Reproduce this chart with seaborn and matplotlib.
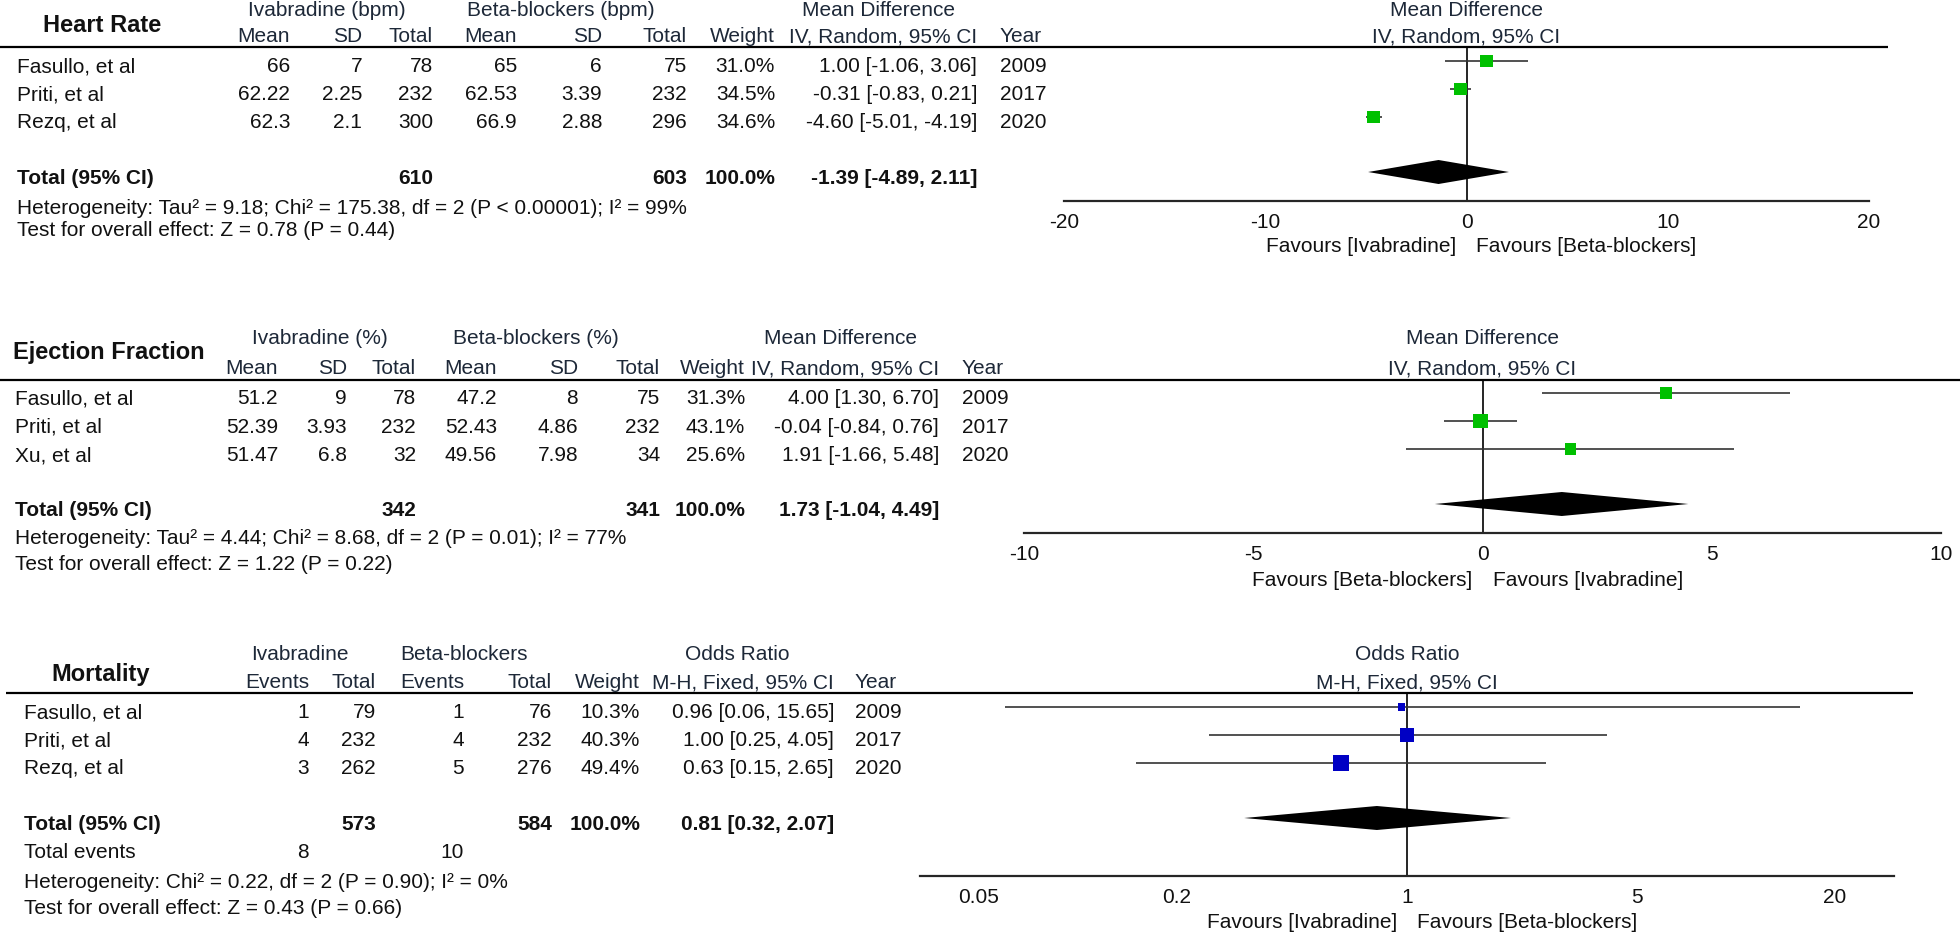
import numpy as np
import pandas as pd
import seaborn as sns
from matplotlib import pyplot as plt
from matplotlib.ticker import NullLocator, NullFormatter

# ---------------- data ----------------
years = ["2009", "2017", "2020"]

# Heart rate (mean difference, bpm)
hr_studies = ["Fasullo, et al", "Priti, et al", "Rezq, et al"]
hr_iv_mean = ["66", "62.22", "62.3"]
hr_iv_sd = ["7", "2.25", "2.1"]
hr_iv_n = [78, 232, 300]
hr_bb_mean = ["65", "62.53", "66.9"]
hr_bb_sd = ["6", "3.39", "2.88"]
hr_bb_n = [75, 232, 296]
hr_weight = [31.0, 34.5, 34.6]
hr_md = [1.00, -0.31, -4.60]
hr_lo = [-1.06, -0.83, -5.01]
hr_hi = [3.06, 0.21, -4.19]
hr_total = [-1.39, -4.89, 2.11]
hr_het = "Heterogeneity: Tau\u00b2 = 9.18; Chi\u00b2 = 175.38, df = 2 (P < 0.00001); I\u00b2 = 99%"
hr_test = "Test for overall effect: Z = 0.78 (P = 0.44)"

# Ejection fraction (mean difference, %)
ef_studies = ["Fasullo, et al", "Priti, et al", "Xu, et al"]
ef_iv_mean = ["51.2", "52.39", "51.47"]
ef_iv_sd = ["9", "3.93", "6.8"]
ef_iv_n = [78, 232, 32]
ef_bb_mean = ["47.2", "52.43", "49.56"]
ef_bb_sd = ["8", "4.86", "7.98"]
ef_bb_n = [75, 232, 34]
ef_weight = [31.3, 43.1, 25.6]
ef_md = [4.00, -0.04, 1.91]
ef_lo = [1.30, -0.84, -1.66]
ef_hi = [6.70, 0.76, 5.48]
ef_total = [1.73, -1.04, 4.49]
ef_het = "Heterogeneity: Tau\u00b2 = 4.44; Chi\u00b2 = 8.68, df = 2 (P = 0.01); I\u00b2 = 77%"
ef_test = "Test for overall effect: Z = 1.22 (P = 0.22)"

# Mortality (odds ratio)
mo_studies = ["Fasullo, et al", "Priti, et al", "Rezq, et al"]
mo_iv_events = [1, 4, 3]
mo_iv_n = [79, 232, 262]
mo_bb_events = [1, 4, 5]
mo_bb_n = [76, 232, 276]
mo_weight = [10.3, 40.3, 49.4]
mo_or = [0.96, 1.00, 0.63]
mo_lo = [0.06, 0.25, 0.15]
mo_hi = [15.65, 4.05, 2.65]
mo_total = [0.81, 0.32, 2.07]
mo_het = "Heterogeneity: Chi\u00b2 = 0.22, df = 2 (P = 0.90); I\u00b2 = 0%"
mo_test = "Test for overall effect: Z = 0.43 (P = 0.66)"

md_ticks = {"hr": [-20, -10, 0, 10, 20], "ef": [-10, -5, 0, 5, 10]}
or_ticks = [0.05, 0.2, 1, 5, 20]
or_ticklabels = ["0.05", "0.2", "1", "5", "20"]

# ---------------- style ----------------
sns.set_style("white")
plt.rcParams["font.family"] = ["Liberation Sans", "DejaVu Sans"]
FS = 15
TXT = "#111111"
HEAD = "#1d2838"
GREEN = "#00c000"
BLUE = "#0000c4"

W, H = 1960, 934
fig = plt.figure(figsize=(W / 100, H / 100), dpi=100)
bg = fig.add_axes([0, 0, 1, 1])
bg.set_xlim(0, W)
bg.set_ylim(H, 0)
bg.axis("off")


def txt(x, y, s, ha="left", bold=False, size=FS, color=TXT):
    bg.text(x, y, s, ha=ha, va="center", fontsize=size,
            fontweight="bold" if bold else "normal", color=color)


def ci_str(e, l, h):
    return f"{e:.2f} [{l:.2f}, {h:.2f}]"


def table(studies, cols, col_right, year_x, y0, dy, x0):
    for i, name in enumerate(studies):
        y = y0 + i * dy
        txt(x0, y, name)
        for col, xr in zip(cols, col_right):
            txt(xr, y, str(col[i]), ha="right")
        txt(year_x, y, years[i])


def forest(px0, px1, xlim, est, lo, hi, weight, total, null, color,
           mark_y0, dy, top_y, axis_y, dia_y, fav, fav_y, heads, head_ys,
           log=False, ticks=None, labels=None, tick_marks=None):
    ax = fig.add_axes([px0 / W, 0, (px1 - px0) / W, 1])
    ax.patch.set_alpha(0)
    if log:
        ax.set_xscale("log")
    ax.set_xlim(*xlim)
    ax.set_ylim(H, 0)
    for s in ["left", "right", "top"]:
        ax.spines[s].set_visible(False)
    ax.spines["bottom"].set_position(("data", axis_y))
    ax.spines["bottom"].set_linewidth(1.6)
    ax.set_yticks([])

    df = pd.DataFrame({"est": est, "lo": lo, "hi": hi, "weight": weight,
                       "y": [mark_y0 + i * dy for i in range(len(est))]})
    ax.hlines(df["y"], df["lo"], df["hi"], color="#333333", lw=1.2, zorder=2)
    sns.scatterplot(data=df, x="est", y="y", size="weight", sizes=(0, 251),
                    size_norm=(0, 100), marker="s", color=color, linewidth=0,
                    legend=False, ax=ax, zorder=3)
    ax.set_xlabel("")
    ax.set_ylabel("")
    ax.vlines(null, top_y, axis_y, color="black", lw=1.2, zorder=1)
    e, l, h = total
    ax.fill([l, e, h, e], [dia_y, dia_y - 12, dia_y, dia_y + 12],
            color="black", lw=0, zorder=3)

    ax.set_xticks(ticks)
    ax.set_xticklabels(labels, fontsize=FS, color=TXT)
    if tick_marks is None:
        ax.tick_params(axis="x", direction="inout", length=11, width=1.6, pad=3)
    else:
        ax.xaxis.set_minor_locator(NullLocator())
        ax.set_xticks(tick_marks, minor=True)
        ax.xaxis.set_minor_formatter(NullFormatter())
        ax.tick_params(axis="x", which="major", length=0, pad=8.5)
        ax.tick_params(axis="x", which="minor", direction="inout",
                       length=11, width=1.6)

    ax.annotate(fav[0], xy=(null, fav_y), xytext=(-10, 0),
                textcoords="offset pixels", ha="right", va="center",
                fontsize=FS, color=TXT)
    ax.annotate(fav[1], xy=(null, fav_y), xytext=(10, 0),
                textcoords="offset pixels", ha="left", va="center",
                fontsize=FS, color=TXT)
    for s, y in zip(heads, head_ys):
        ax.text(null, y, s, ha="center", va="center", fontsize=FS, color=HEAD)
    return ax


# ---------------- panel 1: heart rate ----------------
txt(43, 25, "Heart Rate", bold=True, size=17)
for s, x in [("Ivabradine (bpm)", 327), ("Beta-blockers (bpm)", 561),
             ("Mean Difference", 878)]:
    txt(x, 10, s, ha="center", color=HEAD)
hr_right = [290, 362, 433, 517, 602, 687, 775, 977]
for s, x in zip(["Mean", "SD", "Total", "Mean", "SD", "Total", "Weight",
                 "IV, Random, 95% CI"], hr_right):
    txt(x, 37, s, ha="right", color=HEAD)
txt(1000, 37, "Year", color=HEAD)
bg.hlines(47, 0, 1888, color="black", lw=1.6)
table(hr_studies,
      [hr_iv_mean, hr_iv_sd, hr_iv_n, hr_bb_mean, hr_bb_sd, hr_bb_n,
       [f"{w:.1f}%" for w in hr_weight],
       [ci_str(*v) for v in zip(hr_md, hr_lo, hr_hi)]],
      hr_right, 1000, 67, 28, 17)
txt(17, 178, "Total (95% CI)", bold=True)
txt(433, 178, str(sum(hr_iv_n)), ha="right", bold=True)
txt(687, 178, str(sum(hr_bb_n)), ha="right", bold=True)
txt(775, 178, "100.0%", ha="right", bold=True)
txt(977, 178, ci_str(*hr_total), ha="right", bold=True)
txt(17, 208, hr_het)
txt(17, 230, hr_test)
forest(1064, 1869, (-20, 20), hr_md, hr_lo, hr_hi, hr_weight, hr_total, 0,
       GREEN, 61, 28, 47, 201, 172,
       ("Favours [Ivabradine]", "Favours [Beta-blockers]"), 247,
       ("Mean Difference", "IV, Random, 95% CI"), (10, 37),
       ticks=md_ticks["hr"], labels=[str(t) for t in md_ticks["hr"]])

# ---------------- panel 2: ejection fraction ----------------
txt(13, 353, "Ejection Fraction", bold=True, size=17)
for s, x in [("Ivabradine (%)", 320), ("Beta-blockers (%)", 536),
             ("Mean Difference", 840)]:
    txt(x, 338, s, ha="center", color=HEAD)
ef_right = [278, 347, 416, 497, 578, 660, 745, 939]
for s, x in zip(["Mean", "SD", "Total", "Mean", "SD", "Total", "Weight",
                 "IV, Random, 95% CI"], ef_right):
    txt(x, 369, s, ha="right", color=HEAD)
txt(962, 369, "Year", color=HEAD)
bg.hlines(380, 0, 1960, color="black", lw=1.6)
table(ef_studies,
      [ef_iv_mean, ef_iv_sd, ef_iv_n, ef_bb_mean, ef_bb_sd, ef_bb_n,
       [f"{w:.1f}%" for w in ef_weight],
       [ci_str(*v) for v in zip(ef_md, ef_lo, ef_hi)]],
      ef_right, 962, 399, 28.3, 15)
txt(15, 510, "Total (95% CI)", bold=True)
txt(416, 510, str(sum(ef_iv_n)), ha="right", bold=True)
txt(660, 510, str(sum(ef_bb_n)), ha="right", bold=True)
txt(745, 510, "100.0%", ha="right", bold=True)
txt(939, 510, ci_str(*ef_total), ha="right", bold=True)
txt(15, 539, ef_het)
txt(15, 564, ef_test)
forest(1024, 1941, (-10, 10), ef_md, ef_lo, ef_hi, ef_weight, ef_total, 0,
       GREEN, 393, 28, 380, 533, 504,
       ("Favours [Beta-blockers]", "Favours [Ivabradine]"), 580,
       ("Mean Difference", "IV, Random, 95% CI"), (338, 369),
       ticks=md_ticks["ef"], labels=[str(t) for t in md_ticks["ef"]])

# ---------------- panel 3: mortality ----------------
txt(51, 675, "Mortality", bold=True, size=17)
for s, x in [("Ivabradine", 300), ("Beta-blockers", 464), ("Odds Ratio", 737)]:
    txt(x, 655, s, ha="center", color=HEAD)
mo_right = [309, 376, 464, 552, 640, 834]
for s, x in zip(["Events", "Total", "Events", "Total", "Weight",
                 "M-H, Fixed, 95% CI"], mo_right):
    txt(x, 683, s, ha="right", color=HEAD)
txt(855, 683, "Year", color=HEAD)
bg.hlines(693, 6, 1913, color="black", lw=1.6)
table(mo_studies,
      [mo_iv_events, mo_iv_n, mo_bb_events, mo_bb_n,
       [f"{w:.1f}%" for w in mo_weight],
       [ci_str(*v) for v in zip(mo_or, mo_lo, mo_hi)]],
      mo_right, 855, 713, 28, 24)
txt(24, 824, "Total (95% CI)", bold=True)
txt(376, 824, str(sum(mo_iv_n)), ha="right", bold=True)
txt(552, 824, str(sum(mo_bb_n)), ha="right", bold=True)
txt(640, 824, "100.0%", ha="right", bold=True)
txt(834, 824, ci_str(*mo_total), ha="right", bold=True)
txt(24, 853, "Total events")
txt(309, 853, str(sum(mo_iv_events)), ha="right")
txt(464, 853, str(sum(mo_bb_events)), ha="right")
txt(24, 882, mo_het)
txt(24, 909, mo_test)
forest(920, 1894, (1 / 30.2, 30.2), mo_or, mo_lo, mo_hi, mo_weight, mo_total, 1,
       BLUE, 707, 28, 693, 876, 818,
       ("Favours [Ivabradine]", "Favours [Beta-blockers]"), 922,
       ("Odds Ratio", "M-H, Fixed, 95% CI"), (655, 683),
       log=True, ticks=or_ticks, labels=or_ticklabels, tick_marks=[0.2, 20])

fig.savefig("out.png", dpi=100)
